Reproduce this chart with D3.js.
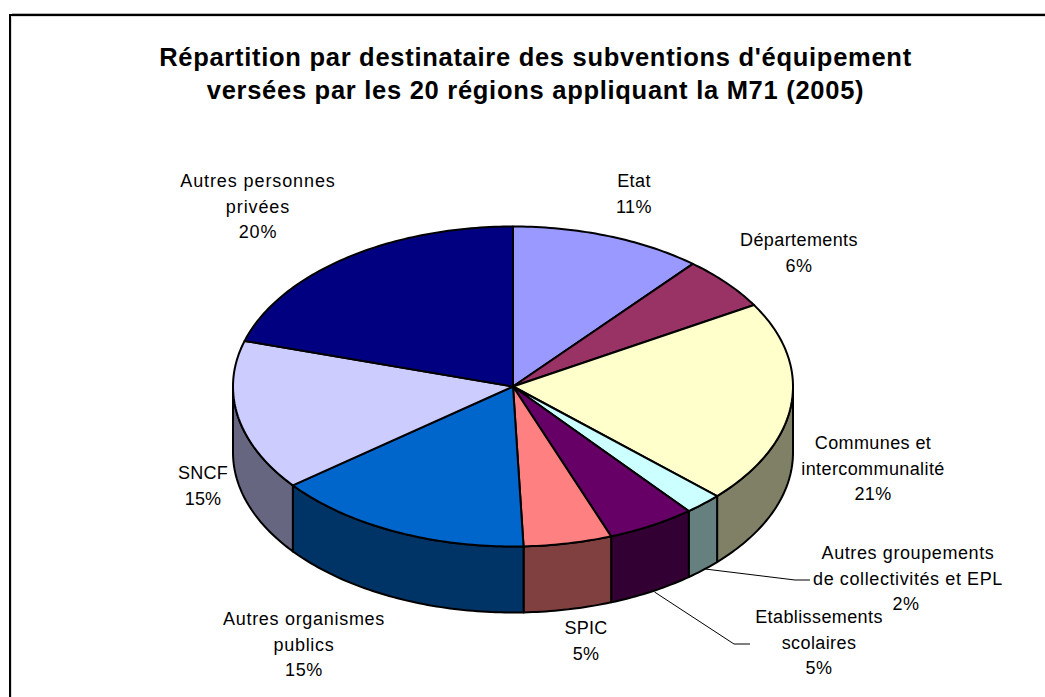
<!DOCTYPE html>
<html><head><meta charset="utf-8">
<script src="https://cdn.jsdelivr.net/npm/d3@7/dist/d3.min.js"></script>
<style>html,body{margin:0;padding:0;background:#fff;overflow:hidden}svg{display:block}
text{font-family:"Liberation Sans",Arial,sans-serif;fill:#000}</style></head>
<body><svg id="c" width="1045" height="697"></svg>
<script>
const titleLines = ["Répartition par destinataire des subventions d'équipement","versées par les 20 régions appliquant la M71 (2005)"];
const categories = ["Etat","Départements","Communes et intercommunalité","Autres groupements de collectivités et EPL","Etablissements scolaires","SPIC","Autres organismes publics","SNCF","Autres personnes privées"];
const shownPercent = ["11%","6%","21%","2%","5%","5%","15%","15%","20%"];
const drawnShare = [11.1,5.4,20.5,2.2,5.1,5.1,15.0,15.2,20.4];
const topColors = ["#9999ff","#993366","#ffffcc","#ccffff","#660066","#ff8080","#0066cc","#ccccff","#000080"];
const sideColors = ["#666699","#662244","#808066","#668080","#330033","#804040","#003366","#666680","#000040"];
const labelLines = [["Etat"],["Départements"],["Communes et","intercommunalité"],["Autres groupements","de collectivités et EPL"],["Etablissements","scolaires"],["SPIC"],["Autres organismes","publics"],["SNCF"],["Autres personnes","privées"]];
const labelAnchors = [[634,181],[799,240],[873,443],[908,553],[819,617],[586,628],[304,619],[203,473],[258,181]];
const labelSpacing = [0.4,0.4,0.4,0.6,0.4,0.2,0.7,0.2,0.9];

const svg = d3.select("#c");
const cx=513, cy=386.5, rx=280, ry=160, depth=66;
const line=d3.line();
// frame: open to the right and bottom, soft grey edge beside the black rule
svg.append("path").attr("d",line([[11.5,697],[11.5,16.5],[1045,16.5]])).attr("fill","none").attr("stroke","#ddd").attr("stroke-width",1);
svg.append("path").attr("d",line([[12,13.8],[1045,13.8]])).attr("fill","none").attr("stroke","#999").attr("stroke-width",1);
svg.append("path").attr("d",line([[10,697],[10,15],[1045,15]])).attr("fill","none").attr("stroke","#000").attr("stroke-width",2);

titleLines.forEach((t,i)=>svg.append("text").attr("x",535.5).attr("y",[66,99][i]).attr("text-anchor","middle").attr("font-size",25.5).attr("font-weight",700).attr("letter-spacing",0.72).text(t));

const arcs = d3.pie().sort(null).value(d=>d)(drawnShare);
const px = a=>cx+rx*Math.sin(a), py=a=>cy-ry*Math.cos(a);
function sample(a0,a1){const n=Math.max(2,Math.ceil((a1-a0)*60));return d3.range(n+1).map(i=>a0+(a1-a0)*i/n);}

arcs.forEach((d,i)=>{
  const a0=Math.max(d.startAngle,Math.PI/2), a1=Math.min(d.endAngle,3*Math.PI/2);
  if(a1<=a0) return;
  const as=sample(a0,a1);
  const pts=as.map(a=>[px(a),py(a)]).concat(as.slice().reverse().map(a=>[px(a),py(a)+depth]));
  svg.append("path").attr("d",line(pts)+"Z").attr("fill",sideColors[i]).attr("stroke","#000").attr("stroke-width",2).attr("stroke-linejoin","round");
});
arcs.forEach((d,i)=>{
  const pts=[[cx,cy]].concat(sample(d.startAngle,d.endAngle).map(a=>[px(a),py(a)]));
  svg.append("path").attr("d",line(pts)+"Z").attr("fill",topColors[i]).attr("stroke","#000").attr("stroke-width",2).attr("stroke-linejoin","round");
});
const leaders = [[[705,569],[795,580],[810,580]],[[654.5,592],[734,644],[750,644]]];
leaders.forEach(p=>svg.append("path").attr("d",line(p)).attr("fill","none").attr("stroke","#000").attr("stroke-width",1));

const lh=25.5;
categories.forEach((c,i)=>{
  const [x,y]=labelAnchors[i];
  const lines=labelLines[i].concat(shownPercent[i]);
  const t=svg.append("text").attr("text-anchor","middle").attr("font-size",18).attr("letter-spacing",labelSpacing[i]);
  lines.forEach((l,k)=>{
    let lx=x, ly=y+k*lh+6;
    if(i===3 && k===2){lx=906;}
    t.append("tspan").attr("x",lx).attr("y",ly).text(l);
  });
});
</script></body></html>
